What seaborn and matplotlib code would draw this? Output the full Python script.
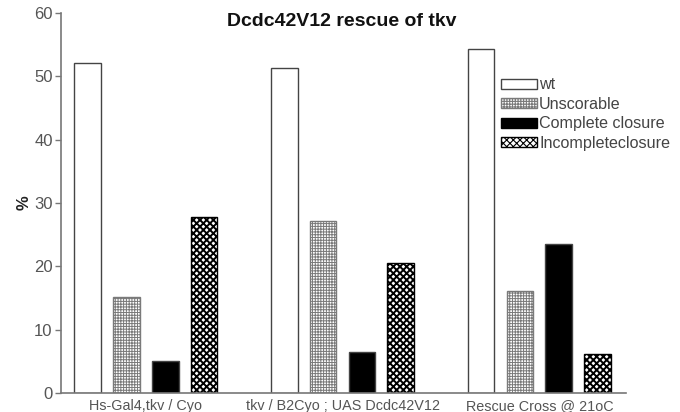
import matplotlib
matplotlib.use("Agg")
import matplotlib.pyplot as plt
from matplotlib.patches import Patch
import seaborn as sns
import pandas as pd

groups = ["Hs-Gal4,tkv / Cyo", "tkv / B2Cyo ; UAS Dcdc42V12", "Rescue Cross @ 21oC"]
series = ["wt", "Unscorable", "Complete closure", "Incompleteclosure"]
wt = [52.2, 51.3, 54.3]
unscorable = [15.1, 27.2, 16.1]
complete = [5.1, 6.5, 23.5]
incomplete = [27.8, 20.5, 6.2]

rows = []
for name, vals in zip(series, [wt, unscorable, complete, incomplete]):
    for g, v in zip(groups, vals):
        rows.append({"group": g, "series": name, "value": v})
df = pd.DataFrame(rows)

sns.set_style("white")
plt.rcParams["font.family"] = ["Liberation Sans", "DejaVu Sans"]
plt.rcParams["hatch.linewidth"] = 0.8

faces = ["white", "white", "black", "white"]
hatches = [None, "++++++", None, "xxxxx"]
hatch_cols = ["#444444", "#7a7a7a", "black", "black"]
hatch_lws = [0.8, 0.7, 0.8, 1.4]

fig = plt.figure(figsize=(6.8, 4.12), dpi=100)
ax = fig.add_axes([0.0897, 0.0461, 0.8309, 0.9219])
sns.barplot(data=df, x="group", y="value", hue="series", hue_order=series,
            palette=faces, width=0.79, gap=0.31, edgecolor="#444444",
            linewidth=1.0, legend=False, ax=ax, saturation=1)


def style_patch(p, h, hc, hl):
    if h:
        p.set_hatch(h)
        p.set_edgecolor(hc)
        if hasattr(p, "set_hatch_linewidth"):
            p.set_hatch_linewidth(hl)
    p.set_linewidth(1.0)


for cont, h, hc, hl in zip(ax.containers, hatches, hatch_cols, hatch_lws):
    for p in cont:
        style_patch(p, h, hc, hl)

ax.set_xlim(-0.43, 2.44)
ax.set_ylim(0, 60)
ax.set_yticks(range(0, 61, 10))
ax.set_xlabel("")
ax.set_ylabel("%", fontsize=12, fontweight="bold", color="#222222", labelpad=2)
for s in ["top", "right"]:
    ax.spines[s].set_visible(False)
for s in ["left", "bottom"]:
    ax.spines[s].set_color("#777777")
    ax.spines[s].set_linewidth(1.2)
ax.tick_params(axis="y", which="both", left=True, length=4, color="#777777",
               labelcolor="#555555", labelsize=12, width=1.0, pad=2)
ax.tick_params(axis="x", bottom=False, labelcolor="#555555", labelsize=10.4, pad=1)

fig.text(0.503, 0.948, "Dcdc42V12 rescue of tkv", ha="center", va="center",
         fontsize=14, fontweight="bold", color="#111111")

handles = []
for f, h, hc, hl in zip(faces, hatches, hatch_cols, hatch_lws):
    hp = Patch(facecolor=f, edgecolor=hc, linewidth=1.0)
    style_patch(hp, h, hc, hl)
    handles.append(hp)
leg = ax.legend(handles, series, loc="upper left", bbox_to_anchor=(0.768, 0.848),
                frameon=False, fontsize=11.6, handlelength=2.2, handleheight=0.6,
                handletextpad=0.15, labelspacing=0.28, borderaxespad=0)
for t in leg.get_texts():
    t.set_color("#444444")

fig.savefig("out.png", dpi=100)
